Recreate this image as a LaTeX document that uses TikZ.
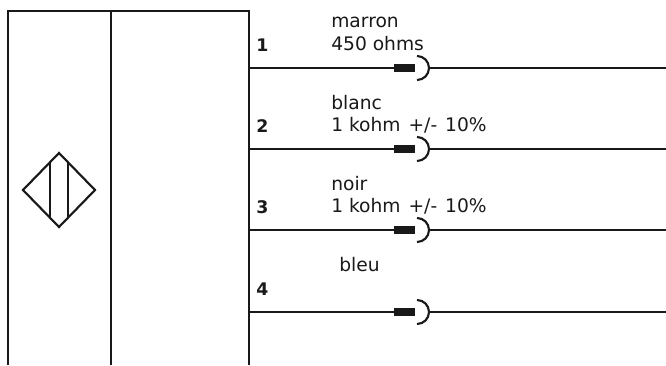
\documentclass[tikz,border=0pt]{standalone}
\usepackage{fontspec}
\setmainfont{DejaVu Sans}
\definecolor{ink}{gray}{0.1}
\tikzset{x=0.75pt,y=-0.75pt,
 wire/.style={line width=1.6pt,line cap=butt,draw=ink},
 plug/.style={line width=5.6pt,line cap=butt,draw=ink},
 lab/.style={anchor=west,inner sep=0pt,text=ink,font=\fontsize{14}{16.8}\selectfont},
 num/.style={anchor=west,inner sep=0pt,text=ink,font=\fontsize{13}{15.6}\selectfont\bfseries}}
\begin{document}
\begin{tikzpicture}
\useasboundingbox (0,0) rectangle (666,365);
\draw[wire] (8,365) -- (8,11) -- (249,11) -- (249,365);
\draw[wire] (111,11) -- (111,365);
\draw[wire,line join=miter] (59,153) -- (95,190) -- (59,227) -- (23,190) -- cycle;
\draw[wire] (50,162) -- (50,218);
\draw[wire] (68,162) -- (68,218);
\foreach \i/\y in {1/68,2/149,3/230,4/312}{
  \coordinate (a\i) at (249,\y);
  \coordinate (b\i) at (394,\y);
  \coordinate (c\i) at (415,\y);
  \coordinate (d\i) at (429,\y);
  \coordinate (e\i) at (666,\y);
  \draw[wire] (a\i) -- (b\i);
  \draw[plug] (b\i) -- (c\i);
  \draw[wire] (d\i) -- (e\i);
  \draw[wire] (417,\y-12) arc[start angle=-90,end angle=90,radius=12];
  \node[num] (n\i) at (256,\y-23) {\i};
}
\node[lab] (m1) at (331,22) {marron};
\node[lab] (m2) at (331,44) {450 ohms};
\node[lab] (b1) at (331,103) {blanc};
\node[lab] (b2) at (331,125) {1 kohm\hspace{1.5pt} +/-\hspace{1.5pt} 10\%};
\node[lab] (c1) at (331,184) {noir};
\node[lab] (c2) at (331,206) {1 kohm\hspace{1.5pt} +/-\hspace{1.5pt} 10\%};
\node[lab] (d1) at (339,265) {bleu};
\end{tikzpicture}
\end{document}
